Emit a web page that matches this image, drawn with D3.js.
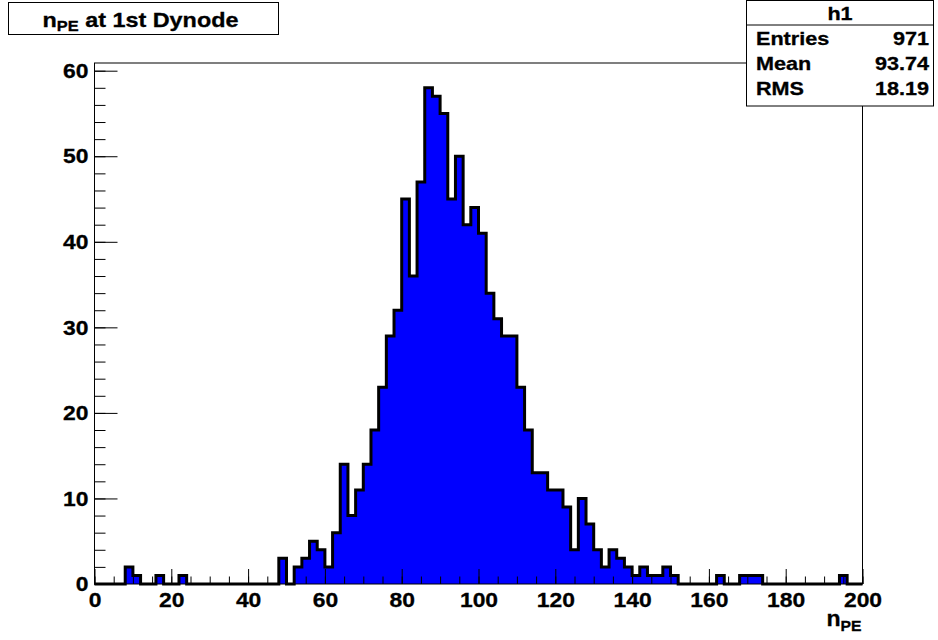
<!DOCTYPE html>
<html>
<head>
<meta charset="utf-8">
<script src="https://cdn.jsdelivr.net/npm/d3@7"></script>
<style>
  html, body { margin: 0; padding: 0; background: #fff; }
  svg { display: block; }
  text { font-family: "Liberation Sans", Arial, Helvetica, sans-serif; font-weight: bold; fill: #000; stroke: #000; stroke-width: 0.3px; }
</style>
</head>
<body>
<svg id="chart" width="938" height="640"></svg>
<script>
// ---- data ----
const binWidth = 2;
const xDomain = [0, 200];
const yMax = 60.9;
// bin low edges with non-zero counts
const binLow = [8, 10, 16, 22, 48, 52, 54, 56, 58, 60, 62, 64, 66, 68, 70, 72, 74, 76, 78,
  80, 82, 84, 86, 88, 90, 92, 94, 96, 98, 100, 102, 104, 106, 108, 110, 112, 114, 116, 118,
  120, 122, 124, 126, 128, 130, 132, 134, 136, 138, 140, 142, 144, 146, 148, 150,
  162, 168, 170, 172, 194];
const binCount = [2, 1, 1, 1, 3, 2, 3, 5, 4, 2, 6, 14, 8, 11, 14, 18, 23, 29, 32,
  45, 36, 47, 58, 57, 55, 45, 50, 42, 44, 41, 34, 31, 29, 29, 23, 18, 13, 13, 11,
  11, 9, 4, 10, 7, 4, 2, 4, 3, 2, 1, 2, 1, 1, 2, 1,
  1, 1, 1, 1, 1];
const xTicks = [0, 20, 40, 60, 80, 100, 120, 140, 160, 180, 200];
const yTicks = [0, 10, 20, 30, 40, 50, 60];
const titleMain = "n";
const titleSub = "PE";
const titleRest = " at 1st Dynode";
const statsName = "h1";
const statLabels = ["Entries", "Mean", "RMS"];
const statValues = ["971", "93.74", "18.19"];

// ---- layout ----
const frame = { left: 94.5, right: 862.5, top: 63, bottom: 584 };
const svg = d3.select("#chart");

const x = d3.scaleLinear().domain(xDomain).range([frame.left, frame.right]);
const y = d3.scaleLinear().domain([0, yMax]).range([frame.bottom, frame.top]);

// full bin list
const nBins = (xDomain[1] - xDomain[0]) / binWidth;
const counts = new Array(nBins).fill(0);
binLow.forEach((lo, i) => { counts[Math.round((lo - xDomain[0]) / binWidth)] = binCount[i]; });

// horizontally stretched text helper (reference font is wider)
function stext(parent, px, py, fs, sx, anchor) {
  return parent.append("text")
    .attr("transform", `translate(${px},${py}) scale(${sx},1)`)
    .attr("font-size", fs)
    .attr("text-anchor", anchor || "start");
}

// frame background
svg.append("rect")
  .attr("x", frame.left).attr("y", frame.top)
  .attr("width", frame.right - frame.left).attr("height", frame.bottom - frame.top)
  .attr("fill", "#fff");

// histogram outline points
const pts = [[xDomain[0], 0]];
counts.forEach((c, i) => {
  const lo = xDomain[0] + i * binWidth;
  pts.push([lo, c]);
  pts.push([lo + binWidth, c]);
});
pts.push([xDomain[1], 0]);

const line = d3.line().x(d => x(d[0])).y(d => y(d[1]));
svg.append("path")
  .attr("d", line(pts) + "Z")
  .attr("fill", "#0000ff")
  .attr("stroke", "none");
svg.append("path")
  .attr("d", line(pts))
  .attr("fill", "none")
  .attr("stroke", "#000")
  .attr("stroke-width", 3)
  .attr("stroke-linejoin", "miter");

// axes
const yMinor = d3.range(0, 61, 2);
const xMinor = d3.range(0, 201, 5);
const labelSize = 21, labelSx = 1.09;

const gy = svg.append("g").attr("transform", `translate(${frame.left},0)`);
gy.call(d3.axisLeft(y).tickValues(yMinor).tickSize(-11).tickSizeOuter(0).tickFormat(""));
gy.select(".domain").remove();
const gy2 = svg.append("g").attr("transform", `translate(${frame.left},0)`);
gy2.call(d3.axisLeft(y).tickValues(yTicks).tickSize(-23).tickSizeOuter(0).tickPadding(6).tickFormat(d3.format("d")));
gy2.select(".domain").remove();
gy2.selectAll(".tick text")
  .attr("transform", `translate(-6,0) scale(${labelSx},1) translate(6,0)`);

const gx = svg.append("g").attr("transform", `translate(0,${frame.bottom})`);
gx.call(d3.axisBottom(x).tickValues(xMinor).tickSize(-7.5).tickSizeOuter(0).tickFormat(""));
gx.select(".domain").remove();
const gx2 = svg.append("g").attr("transform", `translate(0,${frame.bottom})`);
gx2.call(d3.axisBottom(x).tickValues(xTicks).tickSize(-15).tickSizeOuter(0).tickPadding(8).tickFormat(d3.format("d")));
gx2.select(".domain").remove();
gx2.selectAll(".tick text").attr("transform", `scale(${labelSx},1)`);

svg.selectAll(".tick line").attr("stroke", "#000").attr("stroke-width", 1);
svg.selectAll(".tick text")
  .attr("font-family", "Liberation Sans, Arial, sans-serif")
  .attr("font-weight", "bold")
  .attr("font-size", labelSize)
  .attr("fill", "#000");

// frame border
svg.append("rect")
  .attr("x", frame.left).attr("y", frame.top)
  .attr("width", frame.right - frame.left).attr("height", frame.bottom - frame.top)
  .attr("fill", "none").attr("stroke", "#000").attr("stroke-width", 1);

// x axis title
const xt = stext(svg, frame.right - 1, 626, 22, 1.05, "end");
xt.append("tspan").text(titleMain);
xt.append("tspan").attr("font-size", 15).attr("dy", 5).text(titleSub);

// title box
svg.append("rect")
  .attr("x", 8.5).attr("y", 2.5).attr("width", 270).attr("height", 32)
  .attr("fill", "#fff").attr("stroke", "#000").attr("stroke-width", 1);
const tt = stext(svg, 140.5, 27, 20, 1.17, "middle");
tt.append("tspan").text(titleMain);
tt.append("tspan").attr("font-size", 14).attr("dy", 4).text(titleSub);
tt.append("tspan").attr("dy", -4).text(titleRest);

// stats box
const sb = { left: 746.5, right: 933.5, top: 0.5, bottom: 106 };
svg.append("rect")
  .attr("x", sb.left).attr("y", sb.top)
  .attr("width", sb.right - sb.left).attr("height", sb.bottom - sb.top)
  .attr("fill", "#fff").attr("stroke", "#000").attr("stroke-width", 1);
svg.append("line")
  .attr("x1", sb.left).attr("x2", sb.right).attr("y1", 25).attr("y2", 25)
  .attr("stroke", "#000").attr("stroke-width", 1);
stext(svg, (sb.left + sb.right) / 2, 19.5, 18, 1.2, "middle").text(statsName);
statLabels.forEach((lab, i) => {
  const by = 45 + i * 25;
  stext(svg, 756, by, 18, 1.2, "start").text(lab);
  stext(svg, 929, by, 18, 1.2, "end").text(statValues[i]);
});
</script>
</body>
</html>
